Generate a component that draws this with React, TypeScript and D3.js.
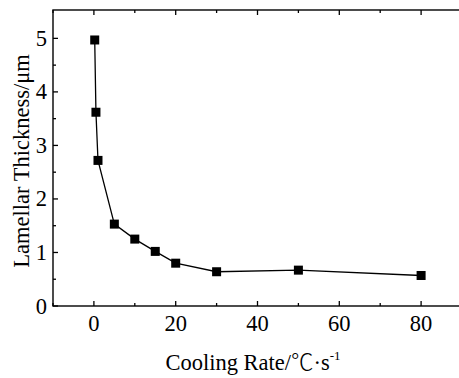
import * as d3 from 'd3';

// Cooling rate (°C/s) vs lamellar thickness (μm)
const coolingRate = [0.2, 0.5, 1, 5, 10, 15, 20, 30, 50, 80];
const thickness = [4.97, 3.62, 2.72, 1.53, 1.25, 1.02, 0.8, 0.64, 0.67, 0.57];

const xMajor = [0, 20, 40, 60, 80];
const xMinor = [-10, 10, 30, 50, 70, 90];
const yMajor = [0, 1, 2, 3, 4, 5];
const yMinor = [0.5, 1.5, 2.5, 3.5, 4.5];

const W = 459;
const H = 378;
const FONT = '"Liberation Serif", "Times New Roman", serif';

export default function App() {
  const left = 53;
  const top = 10;
  const bottom = 306;

  const x = d3.scaleLinear().domain([-10, 90]).range([left, 462]);
  const y = d3.scaleLinear().domain([0, 5.53]).range([bottom, top]);

  const points = coolingRate.map((c, i) => ({ c, t: thickness[i] }));
  const line = d3.line<{ c: number; t: number }>()
    .x(d => x(d.c))
    .y(d => y(d.t));

  const right = x(90);
  const cy = (top + bottom) / 2;

  return (
    <svg width={W} height={H} style={{ position: 'absolute', left: 0, top: 0, background: '#fff' }}>
      {/* frame */}
      <rect x={left} y={top} width={right - left} height={bottom - top} fill="none" stroke="#000" strokeWidth={1.4} />

      {/* x ticks, bottom and top, pointing inward */}
      {xMajor.map(t => (
        <g key={'xM' + t}>
          <line x1={x(t)} x2={x(t)} y1={bottom} y2={bottom - 5} stroke="#000" strokeWidth={1.3} />
          <line x1={x(t)} x2={x(t)} y1={top} y2={top + 5} stroke="#000" strokeWidth={1.3} />
          <text x={x(t)} y={331} textAnchor="middle" fontFamily={FONT} fontSize={22.5} fill="#000">{t}</text>
        </g>
      ))}
      {xMinor.map(t => (
        <g key={'xm' + t}>
          <line x1={x(t)} x2={x(t)} y1={bottom} y2={bottom - 3} stroke="#000" strokeWidth={1.3} />
          <line x1={x(t)} x2={x(t)} y1={top} y2={top + 3} stroke="#000" strokeWidth={1.3} />
        </g>
      ))}

      {/* y ticks */}
      {yMajor.map(t => (
        <g key={'yM' + t}>
          <line x1={left} x2={left + 5} y1={y(t)} y2={y(t)} stroke="#000" strokeWidth={1.3} />
          <text x={47} y={y(t)} textAnchor="end" dominantBaseline="central" fontFamily={FONT} fontSize={22.5} fill="#000">{t}</text>
        </g>
      ))}
      {yMinor.map(t => (
        <line key={'ym' + t} x1={left} x2={left + 3} y1={y(t)} y2={y(t)} stroke="#000" strokeWidth={1.3} />
      ))}

      {/* data */}
      <path d={line(points) ?? ''} fill="none" stroke="#000" strokeWidth={1.3} />
      {points.map((d, i) => (
        <rect key={i} x={x(d.c) - 4.5} y={y(d.t) - 4.5} width={9} height={9} fill="#000" />
      ))}

      {/* axis titles */}
      <text x={253} y={370} textAnchor="middle" fontFamily={FONT} fontSize={22.5} fill="#000">
        Cooling Rate/<tspan fontFamily='"Noto Sans CJK SC", serif' fontWeight={300}>℃</tspan>·s<tspan fontSize={13} dy={-10}>-1</tspan>
      </text>
      <text
        transform={`translate(29,${cy + 3}) rotate(-90)`}
        textAnchor="middle"
        fontFamily={FONT}
        fontSize={22.5}
        fill="#000"
      >
        Lamellar Thickness/μm
      </text>
    </svg>
  );
}
